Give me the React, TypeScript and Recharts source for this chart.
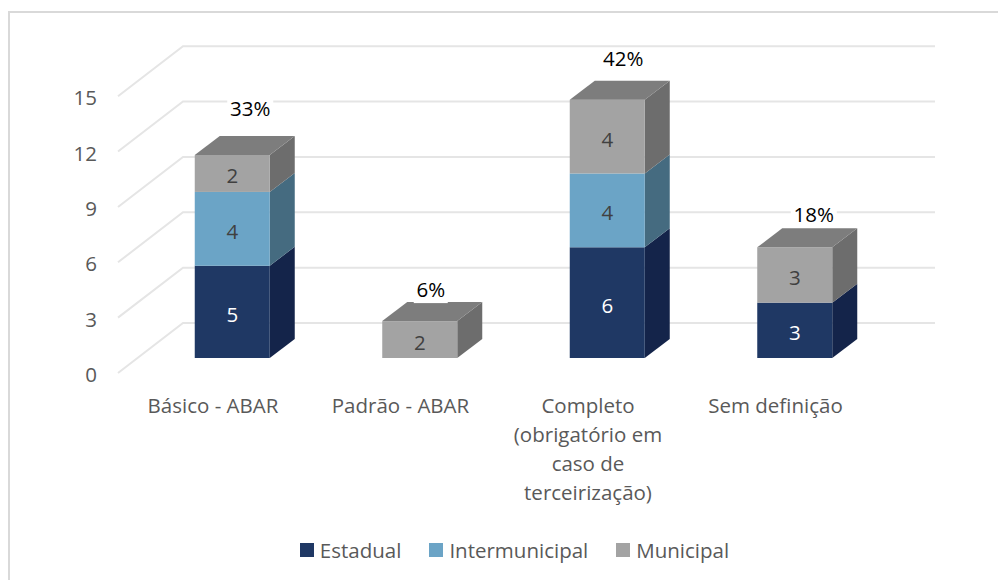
import { BarChart, Bar, XAxis, YAxis, CartesianGrid, Legend, LabelList } from 'recharts';

const categories = [
  'Básico - ABAR',
  'Padrão - ABAR',
  'Completo\n(obrigatório em\ncaso de\nterceirização)',
  'Sem definição',
];
const estadual = [5, 0, 6, 3];
const intermunicipal = [4, 0, 4, 0];
const municipal = [2, 2, 4, 3];
const shares = ['33%', '6%', '42%', '18%'];
const yTicks = [0, 3, 6, 9, 12, 15];

const data = categories.map((name, i) => ({
  name,
  estadual: estadual[i],
  intermunicipal: intermunicipal[i],
  municipal: municipal[i],
}));

const FONT = '"Open Sans", sans-serif';
const TEXT = '#595959';
const GRID = '#e5e5e5';
const FONT_SIZE = 20.5;
const DEPTH_X = 25;
const DEPTH_Y = 19;

// where the percent labels sit relative to the top of the front face
const shareOffsets = [
  { dx: 18, dy: -46 },
  { dx: 11, dy: -31 },
  { dx: 16, dy: -41 },
  { dx: 19, dy: -33 },
];

function Box({ x, y, width, height, fill, side, top }: any) {
  if (!height) return null;
  const r = x + width;
  const b = y + height;
  return (
    <g>
      <polygon
        points={`${r},${y} ${r + DEPTH_X},${y - DEPTH_Y} ${r + DEPTH_X},${b - DEPTH_Y} ${r},${b}`}
        fill={side}
      />
      <rect x={x} y={y} width={width} height={height} fill={fill} />
      {top && (
        <polygon
          points={`${x},${y} ${x + DEPTH_X},${y - DEPTH_Y} ${r + DEPTH_X},${y - DEPTH_Y} ${r},${y}`}
          fill={top}
        />
      )}
    </g>
  );
}

function GridLine({ x1, y1, index }: any) {
  // floor/wall shape of the 3D plot
  return (
    <polyline
      key={index}
      points={`${x1 - 20.75},${y1 + 15} ${x1 + 44.25},${y1 - 35} ${x1 + 796.25},${y1 - 35}`}
      fill="none"
      stroke={GRID}
      strokeWidth={2}
    />
  );
}

function XTick({ x, y, payload }: any) {
  const lines = String(payload.value).split('\n');
  return (
    <text x={x - 19.5} y={y} textAnchor="middle" fontFamily={FONT} fontSize={FONT_SIZE} fill={TEXT}>
      {lines.map((line, i) => (
        <tspan key={i} x={x - 19.5} y={y + 47 + i * 29}>
          {line}
        </tspan>
      ))}
    </text>
  );
}

function YTick({ y, payload }: any) {
  return (
    <text x={97} y={y + 24} textAnchor="end" fontFamily={FONT} fontSize={FONT_SIZE} fill={TEXT}>
      {payload.value}
    </text>
  );
}

function ShareLabel({ x, y, width, index }: any) {
  const { dx, dy } = shareOffsets[index];
  const cx = x + width / 2 + dx;
  const cy = y + dy;
  const boxWidth = shares[index].length === 2 ? 34 : 46;
  return (
    <g>
      <rect x={cx - boxWidth / 2} y={cy - 10} width={boxWidth} height={23} fill="#fff" />
      <text x={cx} y={cy + 7.3} textAnchor="middle" fontFamily={FONT} fontSize={FONT_SIZE} fill="#000">
        {shares[index]}
      </text>
    </g>
  );
}

function ValueLabel({ x, y, width, height, value, color }: any) {
  if (!value) return null;
  return (
    <text
      x={x + width / 2}
      y={y + height / 2 + 10}
      textAnchor="middle"
      fontFamily={FONT}
      fontSize={FONT_SIZE}
      fill={color}
    >
      {value}
    </text>
  );
}

function LegendRow({ payload }: any) {
  return (
    <div style={{ display: 'flex', justifyContent: 'center', alignItems: 'center', gap: 28, fontFamily: FONT, fontSize: FONT_SIZE, color: TEXT }}>
      {(payload || []).map((entry: any) => (
        <span key={entry.value} style={{ display: 'flex', alignItems: 'center', gap: 6 }}>
          <span style={{ width: 14, height: 14, background: entry.color, display: 'inline-block' }} />
          {entry.value}
        </span>
      ))}
    </div>
  );
}

export default function App() {
  return (
    <div style={{ position: 'absolute', left: 0, top: 0, width: 998, height: 580, background: '#fff' }}>
      <div style={{ position: 'absolute', left: 8, top: 11, width: 990, height: 2, background: '#d9d9d9' }} />
      <div style={{ position: 'absolute', left: 8, top: 11, width: 2, height: 569, background: '#d9d9d9' }} />
      <BarChart
        width={998}
        height={580}
        data={data}
        margin={{ top: 81.2, right: 109.25, bottom: 192, left: 78.75 }}
        barSize={75}
        style={{ position: 'absolute', left: 0, top: 0 }}
      >
        <CartesianGrid vertical={false} horizontal={(p: any) => <GridLine {...p} />} />
        <XAxis dataKey="name" height={30} axisLine={false} tickLine={false} interval={0} tick={<XTick />} />
        <YAxis width={60} domain={[0, 15]} ticks={yTicks} axisLine={false} tickLine={false} tick={<YTick />} />
        <Legend
          layout="horizontal"
          verticalAlign="middle"
          align="center"
          content={<LegendRow />}
          wrapperStyle={{ position: 'absolute', left: 0, top: 536, width: 1029 }}
        />
        <Bar
          dataKey="estadual"
          name="Estadual"
          stackId="a"
          fill="#1f3864"
          isAnimationActive={false}
          shape={(p: any) => <Box {...p} side="#14244a" />}
        >
          <LabelList dataKey="estadual" content={<ValueLabel color="#fff" />} />
        </Bar>
        <Bar
          dataKey="intermunicipal"
          name="Intermunicipal"
          stackId="a"
          fill="#6ba4c6"
          isAnimationActive={false}
          shape={(p: any) => <Box {...p} side="#456b80" />}
        >
          <LabelList dataKey="intermunicipal" content={<ValueLabel color="#404040" />} />
        </Bar>
        <Bar
          dataKey="municipal"
          name="Municipal"
          stackId="a"
          fill="#a3a3a3"
          isAnimationActive={false}
          shape={(p: any) => <Box {...p} side="#6d6d6d" top="#7d7d7d" />}
        >
          <LabelList dataKey="municipal" content={<ValueLabel color="#404040" />} />
          <LabelList dataKey="municipal" content={<ShareLabel />} />
        </Bar>
      </BarChart>
    </div>
  );
}
